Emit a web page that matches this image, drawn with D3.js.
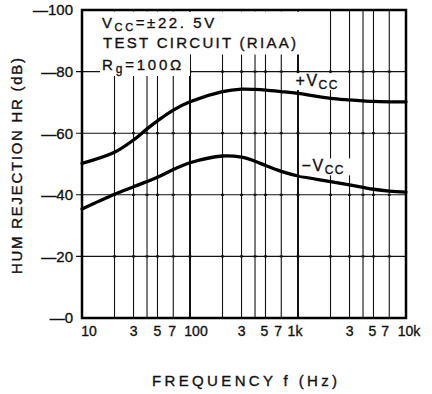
<!DOCTYPE html>
<html>
<head>
<meta charset="utf-8">
<script src="https://cdn.jsdelivr.net/npm/d3@7"></script>
<style>
  body { margin: 0; background: #fff; }
  svg { display: block; font-family: "Liberation Sans", Arial, sans-serif; }
  text { fill: #111; stroke: #111; stroke-width: 0.35px; }
</style>
</head>
<body>
<div id="chart"></div>
<script>
// frequency (Hz) and hum rejection (dB)
const freq = [10, 20, 30, 40, 50, 70, 100, 200, 300, 400, 500, 700, 1000, 2000, 3000, 4000, 5000, 7000, 10000];
const plusVcc = [-50.2, -53.8, -57.8, -61.4, -64, -67.5, -70.2, -73.5, -74.3, -74.2, -74, -73.5, -72.9, -71.3, -70.8, -70.5, -70.3, -70.2, -70.2];
const minusVcc = [-35.4, -40.2, -42.6, -44.3, -45.7, -48.2, -50.4, -52.6, -52.2, -50.9, -49.5, -47.6, -46.1, -44.3, -43.2, -42.4, -41.8, -41.2, -40.9];

const xGrid = [20, 30, 40, 50, 70, 100, 200, 300, 400, 500, 700, 1000, 2000, 3000, 4000, 5000, 7000];
const xTicks = [10, 30, 50, 70, 100, 300, 500, 700, 1000, 3000, 5000, 7000, 10000];
const xTickLabels = ["10", "3", "5", "7", "100", "3", "5", "7", "1k", "3", "5", "7", "10k"];
const xLabelShift = [7, 0, 0, -1, 6, 0, -1, -3, -3, 0, -1, -4, 3];
const yTicks = [0, -20, -40, -60, -80, -100];
const yTickLabels = ["—0", "—20", "—40", "—60", "—80", "—100"];

const W = 432, H = 394;
const margin = { top: 10, right: 26, bottom: 76, left: 82 };

const svg = d3.select("#chart").append("svg")
  .attr("width", W)
  .attr("height", H);

const x = d3.scaleLog().domain([10, 10000]).range([margin.left, W - margin.right]);
const y = d3.scaleLinear().domain([0, -100]).range([H - margin.bottom, margin.top]);

// grid
const grid = svg.append("g").attr("stroke", "#111");
grid.selectAll("line.v")
  .data(xGrid)
  .enter().append("line")
  .attr("class", "v")
  .attr("x1", d => x(d)).attr("x2", d => x(d))
  .attr("y1", y(-100)).attr("y2", y(0))
  .attr("stroke-width", d => (d === 100 || d === 1000) ? 2 : 1.1);

grid.selectAll("line.h")
  .data([-20, -40, -60, -80])
  .enter().append("line")
  .attr("class", "h")
  .attr("x1", x(10) - 6).attr("x2", x(10000))
  .attr("y1", d => y(d)).attr("y2", d => y(d))
  .attr("stroke-width", 1.1);

// small dots where the grid lines meet
const cross = [];
xGrid.forEach(f => [-20, -40, -60, -80].forEach(v => cross.push([f, v])));
grid.selectAll("rect.c")
  .data(cross)
  .enter().append("rect")
  .attr("x", d => x(d[0]) - 1.5).attr("y", d => y(d[1]) - 1)
  .attr("width", 3).attr("height", 2)
  .attr("fill", "#111").attr("stroke", "none");

// blank areas under the notes
svg.append("rect").attr("x", 84).attr("y", 11.5).attr("width", 218).attr("height", 43).attr("fill", "#fff");
svg.append("rect").attr("x", 100).attr("y", 54).attr("width", 90).attr("height", 22).attr("fill", "#fff");

// curves
const line = d3.line()
  .x((d, i) => x(freq[i]))
  .y(d => y(d))
  .curve(d3.curveCatmullRom.alpha(0.5));

[plusVcc, minusVcc].forEach(s => {
  svg.append("path")
    .datum(s)
    .attr("d", line)
    .attr("fill", "none")
    .attr("stroke", "#000")
    .attr("stroke-width", 3.3)
    .attr("stroke-linecap", "round");
});

// frame
svg.append("rect")
  .attr("x", x(10)).attr("y", y(-100))
  .attr("width", x(10000) - x(10)).attr("height", y(0) - y(-100))
  .attr("fill", "none").attr("stroke", "#000").attr("stroke-width", 2.5);

// y tick labels
svg.append("g").selectAll("text")
  .data(yTicks)
  .enter().append("text")
  .attr("x", x(10) - 9)
  .attr("y", d => y(d))
  .attr("dy", "0.36em")
  .attr("text-anchor", "end")
  .style("font-size", "15px")
  .text((d, i) => yTickLabels[i]);

// x tick labels
svg.append("g").selectAll("text")
  .data(xTicks)
  .enter().append("text")
  .attr("x", (d, i) => x(d) + xLabelShift[i])
  .attr("y", y(0) + 18)
  .attr("text-anchor", "middle")
  .style("font-size", "14px")
  .text((d, i) => xTickLabels[i]);

// axis titles
svg.append("text")
  .attr("x", 244.5).attr("y", 386)
  .attr("text-anchor", "middle")
  .attr("textLength", 185).attr("lengthAdjust", "spacing")
  .style("font-size", "15px")
  .text("FREQUENCY  f (Hz)");

svg.append("text")
  .attr("transform", "translate(22,166) rotate(-90)")
  .attr("text-anchor", "middle")
  .attr("textLength", 216).attr("lengthAdjust", "spacing")
  .style("font-size", "15px")
  .text("HUM REJECTION  HR (dB)");

// notes
function sub(t, main, small, extra, sz) {
  t.append("tspan").text(main);
  t.append("tspan").attr("dy", 3).style("font-size", sz).text(small);
  t.append("tspan").attr("dy", -3).text(extra);
}
const n1 = svg.append("text").attr("x", 102).attr("y", 28)
  .style("font-size", "15px").style("letter-spacing", "2.6px");
sub(n1, "V", "CC", "=±22. 5V", "11px");

svg.append("text").attr("x", 103).attr("y", 48)
  .attr("textLength", 193).attr("lengthAdjust", "spacing")
  .style("font-size", "15px")
  .text("TEST CIRCUIT (RIAA)");

const n3 = svg.append("text").attr("x", 102).attr("y", 70)
  .style("font-size", "15px").style("letter-spacing", "2.8px");
sub(n3, "R", "g", "=100Ω", "12px");

// curve names
const lbl = [
  { f: 950, v: -75.3, s: "+" },
  { f: 1080, v: -47.6, s: "−" }
];
lbl.forEach(l => {
  svg.append("rect")
    .attr("x", x(l.f) - 2).attr("y", y(l.v) - 13)
    .attr("width", 54).attr("height", 17)
    .attr("fill", "#fff");
  const t = svg.append("text").attr("x", x(l.f)).attr("y", y(l.v))
    .style("font-size", "16px").style("letter-spacing", "1.5px");
  sub(t, l.s + "V", "CC", "", "12px");
});
</script>
</body>
</html>
